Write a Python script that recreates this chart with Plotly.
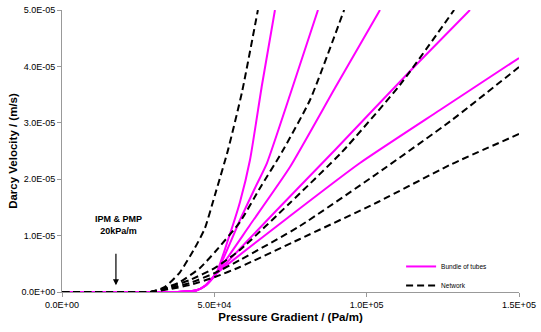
import plotly.graph_objects as go

# Pressure gradient (Pa/m) and Darcy velocity (m/s, in units of 1e-6)
# Bundle of tubes model (magenta)
tube_x = [
    [0, 38000, 44200, 47000, 50540, 54480, 58420, 61700, 65640, 69900],
    [0, 38000, 44200, 47000, 50540, 58420, 63340, 67280, 74830, 84020],
    [0, 38000, 44200, 47000, 50540, 61700, 74830, 89600, 104370],
    [0, 38000, 44200, 47000, 50540, 69900, 89600, 115850, 133900],
    [0, 38000, 44200, 47000, 50540, 74830, 97800, 124060, 150000],
]
tube_y = [
    [0, 0, 0.3, 1.1, 3.19, 9.22, 15.96, 23.40, 36.70, 50.0],
    [0, 0, 0.3, 1.1, 3.19, 12.77, 18.44, 22.87, 34.93, 50.0],
    [0, 0, 0.3, 1.1, 3.19, 11.88, 22.16, 36.17, 50.0],
    [0, 0, 0.3, 1.1, 3.19, 14.18, 25.18, 40.07, 50.0],
    [0, 0, 0.3, 1.1, 3.19, 13.47, 22.87, 32.27, 41.49],
]

# Network model (black dashed)
net_x = [
    [0, 29000, 33800, 38700, 43600, 46900, 50200, 54500, 59100, 64300],
    [0, 29000, 33800, 38700, 45300, 50200, 58400, 65000, 72200, 81400, 92600],
    [0, 29000, 35500, 42000, 50200, 58400, 74800, 91900, 110900, 128700],
    [0, 29000, 35500, 42000, 50200, 58400, 78100, 103700, 128000, 150000],
    [0, 29000, 35500, 42000, 50200, 58400, 78100, 103700, 127300, 150000],
]
net_y = [
    [0, 0, 0.9, 3.5, 7.8, 11.3, 17.2, 25.2, 35.5, 50.0],
    [0, 0, 0.71, 1.77, 4.26, 7.09, 12.41, 18.44, 24.82, 34.04, 50.0],
    [0, 0, 0.89, 2.13, 4.26, 7.45, 15.78, 24.82, 36.70, 50.0],
    [0, 0, 0.71, 1.60, 3.37, 5.67, 11.70, 21.10, 30.50, 39.89],
    [0, 0, 0.53, 1.24, 2.66, 4.43, 9.40, 15.96, 22.52, 28.01],
]

x_ticks = [0, 50000, 100000, 150000]
x_ticktext = ['0.0E+00', '5.0E+04', '1.0E+05', '1.5E+05']
y_ticks = [0, 1e-5, 2e-5, 3e-5, 4e-5, 5e-5]
y_ticktext = ['0.0E+00', '1.0E-05', '2.0E-05', '3.0E-05', '4.0E-05', '5.0E-05']

FONT = 'Liberation Sans, Arial, sans-serif'

fig = go.Figure()

for i, (xs, ys) in enumerate(zip(tube_x, tube_y)):
    fig.add_trace(go.Scatter(x=xs, y=[v * 1e-6 for v in ys], mode='lines',
                             line=dict(color='#FF00FF', width=2, shape='spline', smoothing=0.5),
                             name='Bundle of tubes', showlegend=(i == 0)))

for i, (xs, ys) in enumerate(zip(net_x, net_y)):
    fig.add_trace(go.Scatter(x=xs, y=[v * 1e-6 for v in ys], mode='lines',
                             line=dict(color='black', width=2, dash='7px,4px',
                                       shape='spline', smoothing=0.5),
                             name='Network', showlegend=(i == 0)))

# arrow marking IPM & PMP
fig.add_annotation(x=17700, y=1.2e-6, ax=0, ay=-33, showarrow=True,
                   arrowhead=2, arrowsize=1, arrowwidth=1.2, arrowcolor='black',
                   text='')
fig.add_annotation(x=18400, y=1.18e-5, showarrow=False,
                   text='<b>IPM & PMP</b><br><b>20kPa/m</b>',
                   font=dict(family=FONT, size=9, color='black'))

fig.update_layout(
    width=541, height=332,
    margin=dict(l=62, r=22, t=10, b=40),
    paper_bgcolor='white', plot_bgcolor='white',
    font=dict(family=FONT, color='black'),
    legend=dict(x=0.742, y=0.142, xanchor='left', yanchor='top',
                font=dict(family=FONT, size=6.5), bgcolor='rgba(0,0,0,0)',
                tracegroupgap=0, itemwidth=30),
)
fig.update_xaxes(range=[0, 150000], tickvals=x_ticks, ticktext=x_ticktext,
                 automargin=False,
                 showgrid=False, zeroline=False, showline=True, linecolor='#999',
                 linewidth=1, ticks='outside', ticklen=4, tickcolor='#999',
                 tickfont=dict(family=FONT, size=9),
                 title=dict(text='<b>Pressure Gradient / (Pa/m)</b>',
                            font=dict(family=FONT, size=11.5), standoff=4))
fig.update_yaxes(range=[0, 5e-5], tickvals=y_ticks, ticktext=y_ticktext,
                 automargin=False,
                 showgrid=False, zeroline=False, showline=True, linecolor='#999',
                 linewidth=1, ticks='outside', ticklen=4, tickcolor='#999',
                 tickfont=dict(family=FONT, size=9),
                 title=dict(text='<b>Darcy Velocity / (m/s)</b>',
                            font=dict(family=FONT, size=11.5), standoff=1))

# drop the default 8px body margin so the figure sits at the window's corner
fig.write_html("out.html", config={'displayModeBar': False},
               post_script="document.body.style.margin='0';")
